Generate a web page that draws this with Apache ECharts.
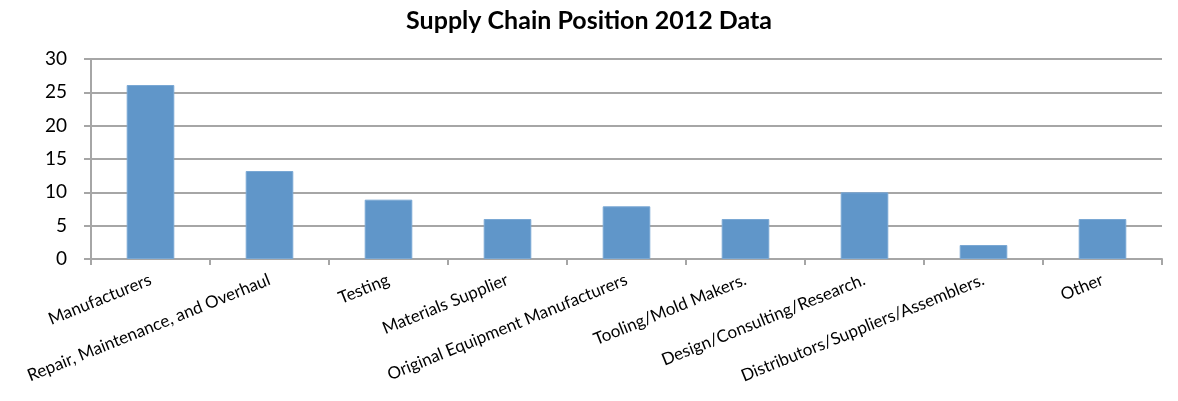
<!DOCTYPE html>
<html>
<head>
<meta charset="utf-8">
<script src="https://cdn.jsdelivr.net/npm/echarts@6/dist/echarts.min.js"></script>
<style>
  html, body { margin: 0; padding: 0; background: #fff; }
  #chart { width: 1178px; height: 401px; }
</style>
</head>
<body>
<div id="chart"></div>
<script>
// Supply chain positions and their share in 2012
const categories = [
  'Manufacturers',
  'Repair, Maintenance, and Overhaul',
  'Testing',
  'Materials Supplier',
  'Original Equipment Manufacturers',
  'Tooling/Mold Makers.',
  'Design/Consulting/Research.',
  'Distributors/Suppliers/Assemblers.',
  'Other'
];
const values = [26.1, 13.2, 8.9, 6.0, 7.9, 6.0, 10.0, 2.1, 6.0];
const yTicks = { min: 0, max: 30, interval: 5 };

const font = 'Lato, "Open Sans", sans-serif';
const gridGrey = '#a6a6a6';

const chart = echarts.init(document.getElementById('chart'), null, { renderer: 'canvas' });
chart.setOption({
  animation: false,
  title: {
    text: 'Supply Chain Position 2012 Data',
    left: 'center',
    top: 3,
    textStyle: { fontFamily: font, fontWeight: 'bold', fontSize: 25, color: '#000' }
  },
  grid: { left: 91, right: 16, top: 59, bottom: 142, containLabel: false },
  xAxis: {
    type: 'category',
    data: categories,
    axisLine: { lineStyle: { color: gridGrey, width: 2 } },
    axisTick: { show: true, alignWithLabel: false, length: 6, lineStyle: { color: gridGrey, width: 2 } },
    axisLabel: {
      interval: 0,
      rotate: 22,
      margin: 20,
      fontFamily: font,
      fontSize: 17,
      color: '#000'
    }
  },
  yAxis: {
    type: 'value',
    min: yTicks.min,
    max: yTicks.max,
    interval: yTicks.interval,
    axisLine: { show: true, lineStyle: { color: gridGrey, width: 2 } },
    axisTick: { show: true, length: 7, lineStyle: { color: gridGrey, width: 2 } },
    splitLine: { show: true, lineStyle: { color: gridGrey, width: 2 } },
    axisLabel: { fontFamily: font, fontSize: 19, color: '#000', margin: 24 }
  },
  series: [{
    type: 'bar',
    data: values,
    barWidth: '40%',
    itemStyle: { color: '#6096c9', borderColor: '#7aa8d4', borderWidth: 1 }
  }]
});
</script>
</body>
</html>
